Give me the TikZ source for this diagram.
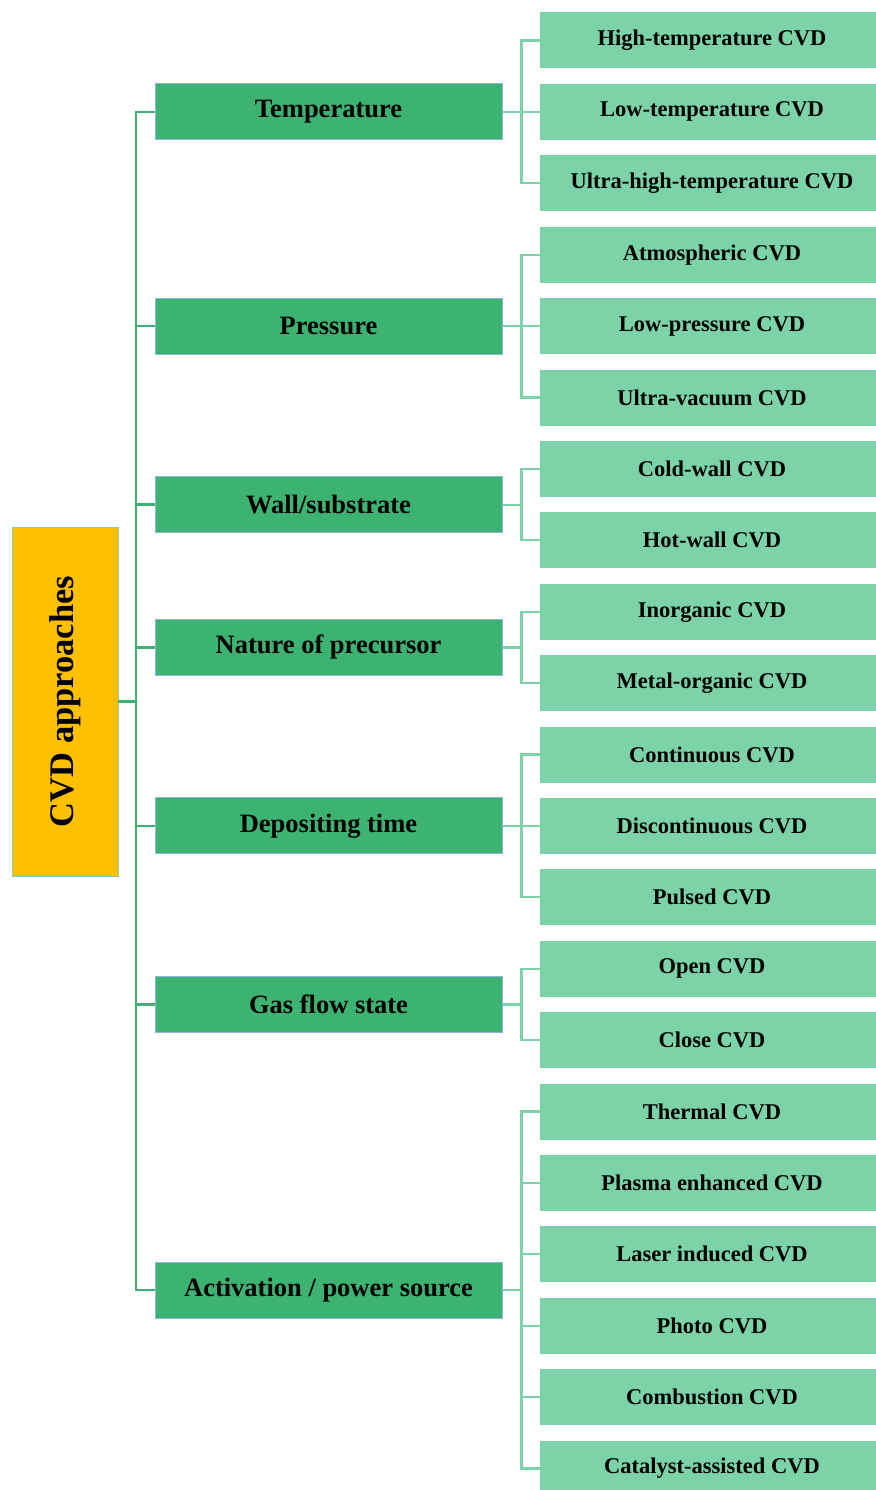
\documentclass[tikz,border=0pt]{standalone}
\usepackage{fontspec}
\setmainfont{Liberation Serif}
\definecolor{rootorange}{HTML}{FFC000}
\definecolor{catgreen}{HTML}{3CB371}
\definecolor{leafgreen}{HTML}{7DD3A8}
\definecolor{catborder}{HTML}{8DB4E2}
\begin{document}
\begin{tikzpicture}[x=1pt, y=-1pt,
    rootbox/.style = {draw=catgreen!60, fill=rootorange, minimum width=106pt, minimum height=349pt, inner sep=0pt, font=\bfseries\fontsize{34.5}{38}\selectfont},
    catbox/.style = {draw=catborder, line width=1pt, fill=catgreen, minimum width=347pt, minimum height=56pt, inner sep=0pt, font=\bfseries\fontsize{26.5}{30}\selectfont},
    leafbox/.style = {fill=leafgreen, minimum width=344pt, minimum height=56pt, inner sep=0pt, font=\bfseries\fontsize{22.5}{26}\selectfont},
    trunk/.style = {draw=catgreen, line width=2.5pt},
    twig/.style = {draw=leafgreen, line width=2.2pt}]

  \useasboundingbox (0,0) rectangle (875,1490);

  % root
  \node[rootbox] (root) at (65,701.5) {\rotatebox{90}{CVD approaches}};

  % categories
  \node[catbox] (temp) at (328.5,111.9) {Temperature};
  \node[catbox] (pres) at (328.5,326.1) {Pressure};
  \node[catbox] (wall) at (328.5,504.6) {Wall/substrate};
  \node[catbox] (prec) at (328.5,647.4) {Nature of precursor};
  \node[catbox] (depo) at (328.5,825.9) {Depositing time};
  \node[catbox] (gas)  at (328.5,1004.4) {Gas flow state};
  \node[catbox] (act)  at (328.5,1290) {Activation / power source};

  % leaves
  \foreach \txt [count=\i] in {High-temperature CVD, Low-temperature CVD, Ultra-high-temperature CVD,
      Atmospheric CVD, Low-pressure CVD, Ultra-vacuum CVD,
      Cold-wall CVD, Hot-wall CVD,
      Inorganic CVD, Metal-organic CVD,
      Continuous CVD, Discontinuous CVD, Pulsed CVD,
      Open CVD, Close CVD,
      Thermal CVD, Plasma enhanced CVD, Laser induced CVD, Photo CVD, Combustion CVD, Catalyst-assisted CVD}
    \node[leafbox] (l\i) at (712,{40.5+71.4*(\i-1)}) {\txt};

  % root to categories
  \draw[trunk] (root.east) -- (136,701.5);
  \draw[trunk] (temp.west) -| (136,701.5) |- (act.west);
  \foreach \c in {pres,wall,prec,depo,gas}
    \draw[trunk] (\c.west) -- (136,0 |- \c.west);

  % categories to leaves
  \foreach \i in {1,2,3} \draw[twig] (temp.east) -- ++(19,0) |- (l\i.west);
  \foreach \i in {4,5,6} \draw[twig] (pres.east) -- ++(19,0) |- (l\i.west);
  \foreach \i in {7,8} \draw[twig] (wall.east) -- ++(19,0) |- (l\i.west);
  \foreach \i in {9,10} \draw[twig] (prec.east) -- ++(19,0) |- (l\i.west);
  \foreach \i in {11,12,13} \draw[twig] (depo.east) -- ++(19,0) |- (l\i.west);
  \foreach \i in {14,15} \draw[twig] (gas.east) -- ++(19,0) |- (l\i.west);
  \foreach \i in {16,...,21} \draw[twig] (act.east) -- ++(19,0) |- (l\i.west);

\end{tikzpicture}
\end{document}
